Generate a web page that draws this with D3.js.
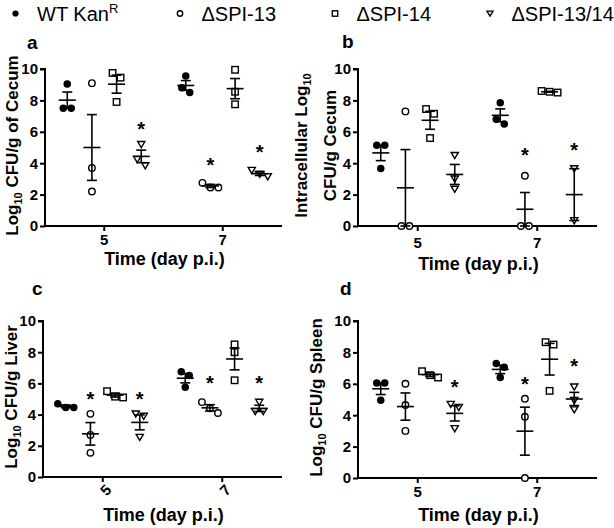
<!DOCTYPE html>
<html><head><meta charset="utf-8">
<script src="https://cdn.jsdelivr.net/npm/d3@7"></script>
<style>
html,body{margin:0;padding:0;background:#fff;}
svg{display:block;}
text{font-family:"Liberation Sans",Arial,sans-serif;fill:#000;}
</style></head>
<body>
<svg id="chart" width="614" height="528"></svg>
<script>
// ---------- data ----------
const days = ["5", "7"];
const seriesNames = ["WT Kan", "ΔSPI-13", "ΔSPI-14", "ΔSPI-13/14"];
const seriesSymbols = ["filledCircle", "circle", "square", "triangleDown"];
const yTicks = [0, 2, 4, 6, 8, 10];

// Panel a: Log10 CFU/g of Cecum  [WT, Δ13, Δ14, Δ13/14]
const cecumDay5 = [[9.05, 7.5, 7.5], [9.1, 3.7, 2.2], [9.75, 9.45, 7.9], [5.2, 3.85, 4.25]];
const cecumDay7 = [[9.55, 8.5, 8.8], [2.75, 2.45, 2.45], [9.95, 8.55, 7.75], [3.55, 3.15, 3.3]];
const cecumStars5 = [null, null, null, 6.35];
const cecumStars7 = [null, 4.1, null, 4.9];

// Panel b: Intracellular Log10 CFU/g Cecum
const intraDay5 = [[5.15, 5.15, 3.67], [7.3, 0, 0], [7.45, 7.15, 5.6], [4.5, 3.0, 2.35]];
const intraDay7 = [[7.85, 6.5, 6.8], [3.2, 0, 0], [8.5, 8.55, 8.6], [3.65, 0.35]];
const intraStars5 = [null, null, null, null];
const intraStars7 = [null, 4.7, null, 5.05];

// Panel c: Log10 CFU/g Liver
const liverDay5 = [[4.7, 4.45, 4.45], [4.05, 2.7, 1.55], [5.5, 5.1, 5.15], [4.05, 3.9, 2.55]];
const liverDay7 = [[6.75, 6.5, 5.75], [4.8, 4.1, 4.4], [8.5, 8.0, 6.2], [4.8, 4.2, 4.2]];
const liverStars5 = [null, 5.2, null, 5.2];
const liverStars7 = [null, 6.2, null, 6.2];

// Panel d: Log10 CFU/g Spleen
const spleenDay5 = [[6.05, 6.05, 4.95], [6.0, 4.65, 3.0], [6.8, 6.4, 6.55], [4.7, 4.5, 3.15]];
const spleenDay7 = [[7.3, 7.05, 6.4], [5.05, 3.9, 0], [8.65, 8.5, 5.55], [5.8, 4.95, 4.35]];
const spleenStars5 = [null, null, null, 6.0];
const spleenStars7 = [null, 6.2, null, 7.35];

// ---------- layout ----------
const svg = d3.select("#chart");
const FONT_B = "bold";

const panels = [
  {letter: "a", data: [cecumDay5, cecumDay7], stars: [cecumStars5, cecumStars7],
   x0: 45, x1: 282, yTop: 69, yBot: 226, letterPos: [27, 49],
   ylab: [["Log", "10", " CFU/g of Cecum"]], ylabX: [18], rotateTicks: false, tickLabY: 245, xLabY: 265},
  {letter: "b", data: [intraDay5, intraDay7], stars: [intraStars5, intraStars7],
   x0: 358, x1: 597, yTop: 69, yBot: 226, letterPos: [342, 48],
   ylab: [["Intracellular Log", "10", ""], ["CFU/g Cecum", "", ""]], ylabX: [307, 336], rotateTicks: false, tickLabY: 248, xLabY: 270},
  {letter: "c", data: [liverDay5, liverDay7], stars: [liverStars5, liverStars7],
   x0: 43, x1: 282, yTop: 321, yBot: 477, letterPos: [32, 295],
   ylab: [["Log", "10", " CFU/g Liver"]], ylabX: [17], rotateTicks: true, tickLabY: 490, xLabY: 521},
  {letter: "d", data: [spleenDay5, spleenDay7], stars: [spleenStars5, spleenStars7],
   x0: 358, x1: 597, yTop: 321, yBot: 478, letterPos: [340, 295],
   ylab: [["Log", "10", " CFU/g Spleen"]], ylabX: [322], rotateTicks: false, tickLabY: 497, xLabY: 521}
];

function drawSymbol(g, type, x, y, s) {
  if (type === "filledCircle") {
    g.append("circle").attr("cx", x).attr("cy", y).attr("r", s * 0.52).attr("fill", "#000");
  } else if (type === "circle") {
    g.append("circle").attr("cx", x).attr("cy", y).attr("r", s * 0.45)
      .attr("fill", "#fff").attr("stroke", "#000").attr("stroke-width", 1.4);
  } else if (type === "square") {
    const h = s * 0.45;
    g.append("rect").attr("x", x - h).attr("y", y - h).attr("width", 2 * h).attr("height", 2 * h)
      .attr("fill", "#fff").attr("stroke", "#000").attr("stroke-width", 1.4);
  } else {
    const h = s * 0.5;
    g.append("path")
      .attr("d", `M${x - h},${y - h * 0.8}L${x + h},${y - h * 0.8}L${x},${y + h * 0.9}Z`)
      .attr("fill", "#fff").attr("stroke", "#000").attr("stroke-width", 1.4).attr("stroke-linejoin", "miter");
  }
}

// symmetric spread of overlapping points
function spread(vals, y, minDist, step) {
  const pts = vals.map(v => ({v, py: y(v)})).sort((a, b) => a.py - b.py);
  const clusters = [];
  pts.forEach(p => {
    const c = clusters[clusters.length - 1];
    if (c && p.py - c[c.length - 1].py < minDist) c.push(p); else clusters.push([p]);
  });
  clusters.forEach(c => c.forEach((p, i) => { p.dx = (i - (c.length - 1) / 2) * step; }));
  return pts;
}

panels.forEach(p => {
  const g = svg.append("g");
  const x = d3.scaleBand().domain(days).range([p.x0, p.x1]).padding(0);
  const inner = d3.scalePoint().domain(d3.range(seriesNames.length)).range([-37, 37]);
  const y = d3.scaleLinear().domain([0, 10]).range([p.yBot, p.yTop]);

  // axes
  const yAxis = g.append("g").attr("transform", `translate(${p.x0},0)`)
    .call(d3.axisLeft(y).tickValues(yTicks).tickSize(5).tickPadding(2).tickFormat(d3.format("d")));
  const xAxis = g.append("g").attr("transform", `translate(0,${p.yBot})`)
    .call(d3.axisBottom(x).tickSize(5).tickSizeOuter(0).tickFormat(() => ""));
  [yAxis, xAxis].forEach(a => {
    a.select(".domain").attr("stroke", "#000").attr("stroke-width", 2);
    a.selectAll(".tick line").attr("stroke", "#000").attr("stroke-width", 2);
  });
  yAxis.select(".domain").attr("d", `M-5,${y(10)}H0V${p.yBot + 1}`);
  xAxis.select(".domain").attr("d", `M${p.x0 - 1},0H${p.x1}`);
  yAxis.selectAll(".tick text").attr("font-size", 15).attr("font-weight", FONT_B)
    .attr("font-family", "Liberation Sans, Arial, sans-serif").attr("fill", "#000");

  // x tick labels
  days.forEach(d => {
    const cx = x(d) + x.bandwidth() / 2;
    const t = g.append("text").text(d).attr("font-size", 15).attr("font-weight", FONT_B);
    if (p.rotateTicks) {
      t.attr("text-anchor", "middle")
        .attr("transform", `translate(${cx + 3},${p.tickLabY}) rotate(-45)`).attr("dy", "0.35em");
    } else {
      t.attr("x", cx).attr("y", p.tickLabY).attr("text-anchor", "middle");
    }
  });

  // x label
  g.append("text").attr("x", (p.x0 + p.x1) / 2 + 1).attr("y", p.xLabY)
    .attr("text-anchor", "middle").attr("font-size", 18).attr("font-weight", FONT_B)
    .text("Time (day p.i.)");

  // y label lines
  const yMid = (p.yTop + p.yBot) / 2 - 2;
  p.ylab.forEach((parts, i) => {
    const t = g.append("text").attr("transform", `translate(${p.ylabX[i]},${yMid}) rotate(-90)`)
      .attr("text-anchor", "middle").attr("font-size", 17).attr("font-weight", FONT_B);
    t.append("tspan").text(parts[0]);
    if (parts[1]) {
      t.append("tspan").text(parts[1]).attr("font-size", 11).attr("dy", 4);
      t.append("tspan").text(parts[2]).attr("dy", -4);
    }
  });

  // panel letter
  g.append("text").attr("x", p.letterPos[0]).attr("y", p.letterPos[1])
    .attr("font-size", 19).attr("font-weight", FONT_B).text(p.letter);

  // data
  days.forEach((d, di) => {
    const cx0 = x(d) + x.bandwidth() / 2;
    p.data[di].forEach((vals, si) => {
      const cx = cx0 + inner(si);
      const pts = spread(vals, y, 6.5, 8);
      pts.forEach(pt => drawSymbol(g, seriesSymbols[si], cx + pt.dx, pt.py, 7.2));
      const m = d3.mean(vals);
      const sem = d3.deviation(vals) / Math.sqrt(vals.length);
      // error bar
      g.append("line").attr("x1", cx).attr("x2", cx).attr("y1", y(m + sem)).attr("y2", y(Math.max(0, m - sem)))
        .attr("stroke", "#000").attr("stroke-width", 1.6);
      [m + sem, Math.max(0, m - sem)].forEach(v => {
        g.append("line").attr("x1", cx - 5).attr("x2", cx + 5).attr("y1", y(v)).attr("y2", y(v))
          .attr("stroke", "#000").attr("stroke-width", 1.6);
      });
      g.append("line").attr("x1", cx - 8.5).attr("x2", cx + 8.5).attr("y1", y(m)).attr("y2", y(m))
        .attr("stroke", "#000").attr("stroke-width", 1.6);
      const sv = p.stars[di][si];
      if (sv != null) {
        g.append("text").attr("x", cx).attr("y", y(sv) + 10).attr("text-anchor", "middle")
          .attr("font-size", 20).attr("font-weight", FONT_B).text("*");
      }
    });
  });
});

// ---------- legend ----------
const legend = svg.append("g");
const legMarkX = [15.5, 180, 335, 490];
seriesNames.forEach((name, i) => {
  drawSymbol(legend, seriesSymbols[i], legMarkX[i], 13.5, 6);
  const t = legend.append("text").attr("x", legMarkX[i] + 21.5).attr("y", 20.5)
    .attr("font-size", 20).text(name);
  if (i === 0) t.append("tspan").text("R").attr("font-size", 13).attr("dy", -8);
});
</script>
</body></html>
